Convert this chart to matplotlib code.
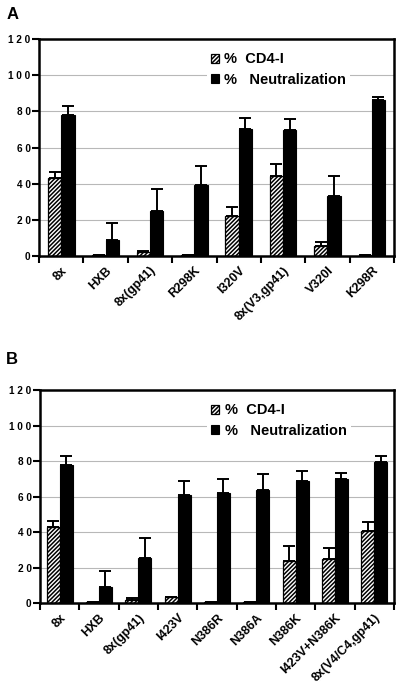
import matplotlib
matplotlib.use("Agg")
import matplotlib.pyplot as plt
import numpy as np

plt.rcParams['font.family'] = ['Liberation Sans', 'DejaVu Sans']
plt.rcParams['hatch.linewidth'] = 1.1

# ---- data ----
cats_a = ["8x", "HXB", "8x(gp41)", "R298K", "I320V", "8x(V3,gp41)", "V320I", "K298R"]
cd4_a = [43, 0.5, 2, 0.5, 22, 44.5, 5.5, 0.5]
cd4_err_a = [3.5, 0, 0.8, 0, 5, 6.5, 2, 0]
neut_a = [78, 9, 25, 39.5, 70.5, 69.5, 33, 86.5]
neut_err_a = [5, 9, 12, 10, 6, 6, 11.5, 1.5]

cats_b = ["8x", "HXB", "8x(gp41)", "I423V", "N386R", "N386A", "N386K", "I423V+N386K", "8x(V4/C4,gp41)"]
cd4_b = [43, 0.5, 2, 3.5, 0.5, 0.8, 24, 25, 40.5]
cd4_err_b = [3.5, 0, 0.8, 0.3, 0, 0, 8, 6, 5.5]
neut_b = [78, 9, 25.5, 61, 62, 63.5, 69, 70, 79.5]
neut_err_b = [5, 9, 11.5, 8, 8, 9, 5.5, 3.5, 3.5]

yticks = [0, 20, 40, 60, 80, 100, 120]
ytick_labels = ["0", "2 0", "4 0", "6 0", "8 0", "1 0 0", "1 2 0"]
legend_labels = ["%  CD4-I", "%   Neutralization"]

fig = plt.figure(figsize=(4.01, 6.97), dpi=100)

def panel(rect, cats, cd4, cd4e, neut, neute, width, letter, letter_pos):
    ax = fig.add_axes(rect)
    n = len(cats)
    x = np.arange(n)
    ax.set_xlim(-0.5, n - 0.5)
    ax.set_ylim(0, 120)
    for yv in yticks[1:-1]:
        ax.axhline(yv, color='#b8b8b8', lw=0.8, zorder=0)
    zeros = [0] * n
    ekw = dict(ecolor='black', elinewidth=1.4, capsize=4, capthick=1.4)
    b1 = ax.bar(x - width / 2, cd4, width, color='white', edgecolor='black',
                hatch='////////', linewidth=0.9, zorder=2,
                yerr=[zeros, cd4e], error_kw=ekw)
    b2 = ax.bar(x + width / 2, neut, width, color='black', edgecolor='black',
                linewidth=0.8, zorder=2,
                yerr=[zeros, neute], error_kw=ekw)
    for s in ax.spines.values():
        s.set_linewidth(1.8)
    ax.set_yticks(yticks)
    ax.set_yticklabels(ytick_labels, fontsize=7.2, fontweight='bold')
    ax.tick_params(axis='y', direction='out', length=5, width=1.5, pad=1)
    ax.set_xticks(x)
    ax.set_xticklabels(cats, rotation=45, ha='right', va='top', rotation_mode='anchor',
                       fontsize=9, fontweight='bold')
    ax.tick_params(axis='x', which='major', length=0, pad=6)
    ax.set_xticks(np.arange(n + 1) - 0.5, minor=True)
    ax.tick_params(axis='x', which='minor', direction='out', length=5, width=1.5)
    leg = ax.legend([b1, b2], legend_labels, loc='upper left', bbox_to_anchor=(0.472, 0.958),
                    frameon=True, fancybox=False, edgecolor='none', facecolor='white', framealpha=1,
                    handlelength=0.55, handleheight=0.55, handletextpad=0.35, labelspacing=0.45,
                    borderpad=0.3, borderaxespad=0, prop={'weight': 'bold', 'size': 10.5})
    leg.set_zorder(5)
    fig.text(letter_pos[0], letter_pos[1], letter, fontsize=12, fontweight='bold',
             ha='left', va='top')
    return ax

W, H = 401, 697
panel([39 / W, 1 - 256 / H, 355 / W, 217 / H], cats_a, cd4_a, cd4_err_a, neut_a, neut_err_a,
      0.30, "A", (7 / W, 1 - 7 / H))
panel([40 / W, 1 - 603.3 / H, 354 / W, 213.3 / H], cats_b, cd4_b, cd4_err_b, neut_b, neut_err_b,
      0.33, "B", (6 / W, 1 - 352 / H))

fig.savefig("out.png", dpi=100)
